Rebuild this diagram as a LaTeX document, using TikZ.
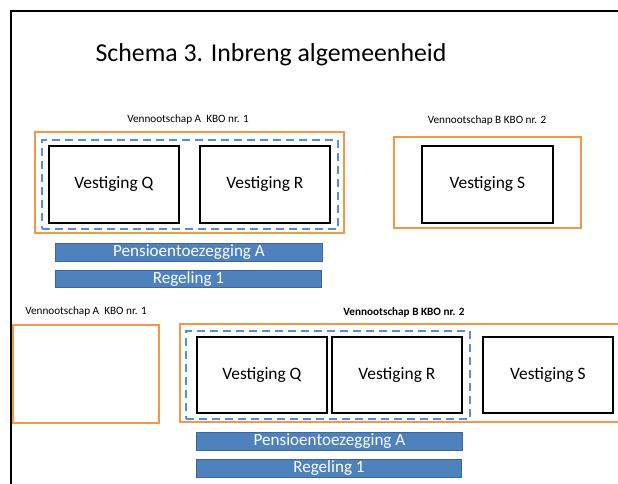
\documentclass[tikz,border=0pt]{standalone}
\usepackage{fontspec}
\setmainfont{Carlito}
\definecolor{orng}{HTML}{F79646}
\definecolor{barblue}{HTML}{4F81BD}
\definecolor{baredge}{HTML}{3A679E}
\definecolor{dashblue}{HTML}{558ED5}
\begin{document}
\begin{tikzpicture}[x=1pt,y=-1pt,
  vbox/.style={draw=black,line width=1.8pt,inner sep=0pt,anchor=north west,font=\fontsize{17.4}{20}\selectfont},
  obox/.style={draw=orng,line width=1.8pt,inner sep=0pt,anchor=north west},
  dbox/.style={draw=dashblue,line width=1.8pt,dash pattern=on 8pt off 5pt,inner sep=0pt,anchor=north west},
  bar/.style={draw=baredge,fill=barblue,line width=0.9pt,inner sep=0pt,anchor=north west,text=white,font=\fontsize{17.1}{19}\selectfont},
  lbl/.style={font=\fontsize{11.2}{13}\selectfont,inner sep=0pt}]
\useasboundingbox (0,0) rectangle (618,484);
\draw[line width=2.2pt] (11,484) -- (11,11) -- (618,11);
\node[font=\fontsize{25.8}{30}\selectfont] (title) at (271,55) {Schema 3. Inbreng algemeenheid};
% top part
\node[lbl] (la1) at (188,120) {Vennootschap A\ \ KBO nr. 1};
\node[obox,minimum width=309pt,minimum height=101pt] (oa1) at (34,131) {};
\node[dbox,minimum width=296pt,minimum height=89pt] (da1) at (41,139) {};
\node[vbox,minimum width=130pt,minimum height=77pt] (q1) at (48,145) {Vestiging Q};
\node[vbox,minimum width=130pt,minimum height=77pt] (r1) at (199,145) {Vestiging R};
\node[bar,minimum width=267pt,minimum height=18pt] (p1) at (55,243) {Pensioentoezegging A};
\node[bar,minimum width=266pt,minimum height=17pt] (g1) at (55,270) {Regeling 1};
\node[lbl] (lb1) at (487,121) {Vennootschap B KBO nr. 2};
\node[obox,minimum width=187pt,minimum height=91pt] (ob1) at (393,136) {};
\node[vbox,minimum width=131pt,minimum height=77pt] (s1) at (421,145) {Vestiging S};
% bottom part
\node[lbl] (la2) at (86,312) {Vennootschap A\ \ KBO nr. 1};
\node[obox,minimum width=146pt,minimum height=98pt] (oa2) at (12,324) {};
\draw[orng,line width=1.8pt] (625,324) -- (180,324) -- (180,422) -- (625,422);
\coordinate (ob2) at (180,324);
\node[lbl,font=\fontsize{11.2}{13}\selectfont\bfseries] (lb2) at (404,312) {Vennootschap B KBO nr. 2};
\node[dbox,minimum width=284pt,minimum height=88pt] (da2) at (185,330) {};
\node[vbox,minimum width=130pt,minimum height=76pt] (q2) at (196,336) {Vestiging Q};
\node[vbox,minimum width=130pt,minimum height=76pt] (r2) at (331,336) {Vestiging R};
\node[vbox,minimum width=130pt,minimum height=76pt] (s2) at (482,336) {Vestiging S};
\node[bar,minimum width=266pt,minimum height=18pt] (p2) at (196,432) {Pensioentoezegging A};
\node[bar,minimum width=265pt,minimum height=18pt] (g2) at (196,459) {Regeling 1};
\end{tikzpicture}
\end{document}
